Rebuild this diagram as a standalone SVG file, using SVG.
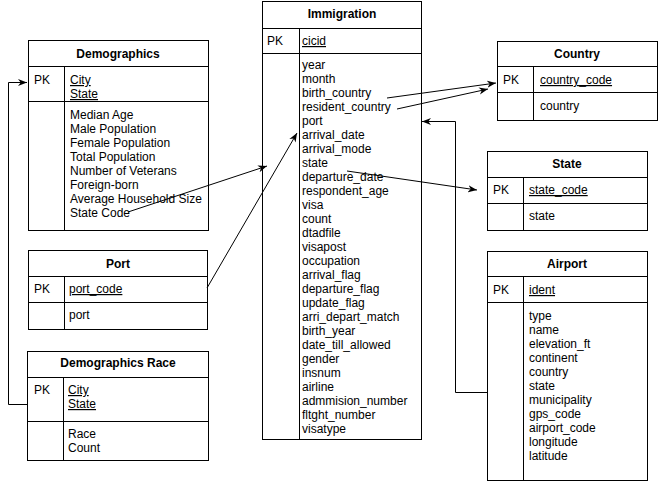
<svg xmlns="http://www.w3.org/2000/svg" width="658" height="484" viewBox="0 0 658 484">
<defs>
<marker id="arr" viewBox="0 0 10 10" refX="10" refY="5" markerWidth="9" markerHeight="9" markerUnits="userSpaceOnUse" orient="auto">
<path d="M0,1 L10,5 L0,9 L3,5 z" fill="#000"/>
</marker>
<style>
.box{fill:#fff;stroke:#000;stroke-width:1}
.ln{stroke:#000;stroke-width:1;fill:none}
text{font-family:"Liberation Sans",Arial,sans-serif;font-size:12px;fill:#000}
.t{font-weight:bold;text-anchor:middle}
.u{text-decoration:underline}
.c{stroke:#000;stroke-width:1;fill:none;marker-end:url(#arr)}
</style>
</defs>
<rect width="658" height="484" fill="#fff"/>

<g id="immigration">
<rect class="box" x="262.5" y="1.5" width="159" height="438"/>
<line class="ln" x1="262.5" y1="28.5" x2="421.5" y2="28.5"/>
<line class="ln" x1="262.5" y1="53.5" x2="421.5" y2="53.5"/>
<line class="ln" x1="299.5" y1="28.5" x2="299.5" y2="439.5"/>
<text class="t" x="342" y="18">Immigration</text>
<text x="267" y="45">PK</text>
<text class="u" x="302" y="45">cicid</text>
<text x="302" y="69"><tspan x="302">year</tspan><tspan x="302" dy="14">month</tspan><tspan x="302" dy="14">birth_country</tspan><tspan x="302" dy="14">resident_country</tspan><tspan x="302" dy="14">port</tspan><tspan x="302" dy="14">arrival_date</tspan><tspan x="302" dy="14">arrival_mode</tspan><tspan x="302" dy="14">state</tspan><tspan x="302" dy="14">departure_date</tspan><tspan x="302" dy="14">respondent_age</tspan><tspan x="302" dy="14">visa</tspan><tspan x="302" dy="14">count</tspan><tspan x="302" dy="14">dtadfile</tspan><tspan x="302" dy="14">visapost</tspan><tspan x="302" dy="14">occupation</tspan><tspan x="302" dy="14">arrival_flag</tspan><tspan x="302" dy="14">departure_flag</tspan><tspan x="302" dy="14">update_flag</tspan><tspan x="302" dy="14">arri_depart_match</tspan><tspan x="302" dy="14">birth_year</tspan><tspan x="302" dy="14">date_till_allowed</tspan><tspan x="302" dy="14">gender</tspan><tspan x="302" dy="14">insnum</tspan><tspan x="302" dy="14">airline</tspan><tspan x="302" dy="14">admmision_number</tspan><tspan x="302" dy="14">fltght_number</tspan><tspan x="302" dy="14">visatype</tspan></text>
</g>

<g id="demographics">
<rect class="box" x="28.5" y="40.5" width="180" height="190"/>
<line class="ln" x1="28.5" y1="66.5" x2="208.5" y2="66.5"/>
<line class="ln" x1="28.5" y1="101.5" x2="208.5" y2="101.5"/>
<line class="ln" x1="64.5" y1="66.5" x2="64.5" y2="230.5"/>
<text class="t" x="118" y="58">Demographics</text>
<text x="34" y="84">PK</text>
<text class="u" x="70" y="84">City</text>
<text class="u" x="70" y="98">State</text>
<text x="70" y="119"><tspan x="70">Median Age</tspan><tspan x="70" dy="14">Male Population</tspan><tspan x="70" dy="14">Female Population</tspan><tspan x="70" dy="14">Total Population</tspan><tspan x="70" dy="14">Number of Veterans</tspan><tspan x="70" dy="14">Foreign-born</tspan><tspan x="70" dy="14">Average Household Size</tspan><tspan x="70" dy="14">State Code</tspan></text>
</g>

<g id="port">
<rect class="box" x="28.5" y="250.5" width="179" height="79"/>
<line class="ln" x1="28.5" y1="276.5" x2="207.5" y2="276.5"/>
<line class="ln" x1="28.5" y1="302.5" x2="207.5" y2="302.5"/>
<line class="ln" x1="64.5" y1="276.5" x2="64.5" y2="329.5"/>
<text class="t" x="118" y="268">Port</text>
<text x="34" y="293">PK</text>
<text class="u" x="69" y="293">port_code</text>
<text x="69" y="319">port</text>
</g>

<g id="demographics_race">
<rect class="box" x="27.5" y="351.5" width="181" height="109"/>
<line class="ln" x1="27.5" y1="377.5" x2="208.5" y2="377.5"/>
<line class="ln" x1="27.5" y1="421.5" x2="208.5" y2="421.5"/>
<line class="ln" x1="63.5" y1="377.5" x2="63.5" y2="460.5"/>
<text class="t" x="118" y="367">Demographics Race</text>
<text x="34" y="394">PK</text>
<text class="u" x="68" y="394">City</text>
<text class="u" x="68" y="408">State</text>
<text x="68" y="438">Race</text>
<text x="68" y="452">Count</text>
</g>

<g id="country">
<rect class="box" x="497.5" y="41.5" width="160" height="79"/>
<line class="ln" x1="497.5" y1="66.5" x2="657.5" y2="66.5"/>
<line class="ln" x1="497.5" y1="92.5" x2="657.5" y2="92.5"/>
<line class="ln" x1="533.5" y1="66.5" x2="533.5" y2="120.5"/>
<text class="t" x="577" y="58">Country</text>
<text x="503" y="84">PK</text>
<text class="u" x="540" y="84">country_code</text>
<text x="540" y="110">country</text>
</g>

<g id="state">
<rect class="box" x="487.5" y="151.5" width="160" height="79"/>
<line class="ln" x1="487.5" y1="177.5" x2="647.5" y2="177.5"/>
<line class="ln" x1="487.5" y1="203.5" x2="647.5" y2="203.5"/>
<line class="ln" x1="523.5" y1="177.5" x2="523.5" y2="230.5"/>
<text class="t" x="567" y="168">State</text>
<text x="493" y="194">PK</text>
<text class="u" x="529" y="194">state_code</text>
<text x="529" y="220">state</text>
</g>

<g id="airport">
<rect class="box" x="487.5" y="251.5" width="160" height="229"/>
<line class="ln" x1="487.5" y1="276.5" x2="647.5" y2="276.5"/>
<line class="ln" x1="487.5" y1="302.5" x2="647.5" y2="302.5"/>
<line class="ln" x1="523.5" y1="276.5" x2="523.5" y2="480.5"/>
<text class="t" x="567" y="268">Airport</text>
<text x="493" y="294">PK</text>
<text class="u" x="529" y="294">ident</text>
<text x="529" y="320"><tspan x="529">type</tspan><tspan x="529" dy="14">name</tspan><tspan x="529" dy="14">elevation_ft</tspan><tspan x="529" dy="14">continent</tspan><tspan x="529" dy="14">country</tspan><tspan x="529" dy="14">state</tspan><tspan x="529" dy="14">municipality</tspan><tspan x="529" dy="14">gps_code</tspan><tspan x="529" dy="14">airport_code</tspan><tspan x="529" dy="14">longitude</tspan><tspan x="529" dy="14">latitude</tspan></text>
</g>

<g id="connectors">
<path class="c" d="M387,98 L496,83"/>
<path class="c" d="M397,109 L488,89"/>
<path class="c" d="M347,171 L477,190"/>
<path class="c" d="M128,212 L267,166"/>
<path class="c" d="M207,288 L297,133"/>
<path class="c" d="M487.5,392.5 L455.5,392.5 L455.5,121.5 L422,121.5"/>
<path class="c" d="M27.5,404.5 L8.5,404.5 L8.5,82.5 L27,82.5"/>
</g>
</svg>
